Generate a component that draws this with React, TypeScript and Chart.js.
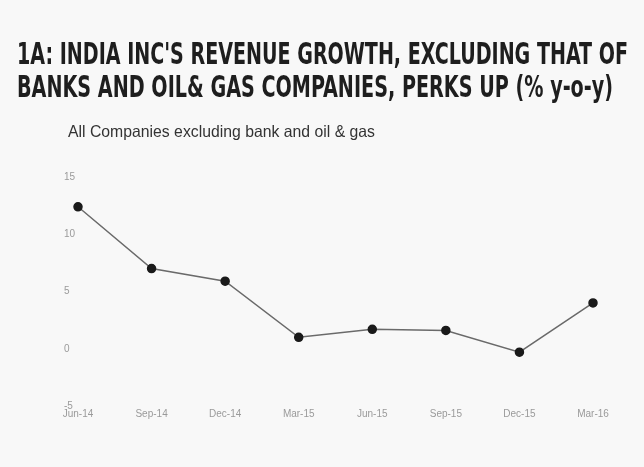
import React, { useEffect, useLayoutEffect, useRef } from "react";
import { Chart, registerables } from "chart.js";

Chart.register(...registerables);

const titleLines = [
  "1A: INDIA INC'S REVENUE GROWTH, EXCLUDING THAT OF",
  "BANKS AND OIL& GAS COMPANIES, PERKS UP (% y-o-y)",
];
const subtitle = "All Companies excluding bank and oil & gas";
const categories = ["Jun-14", "Sep-14", "Dec-14", "Mar-15", "Jun-15", "Sep-15", "Dec-15", "Mar-16"];
const growth = [12.4, 7.0, 5.9, 1.0, 1.7, 1.6, -0.3, 4.0];
const yMin = -5;
const yMax = 15;
const yStep = 5;

function FitLine({
  text,
  width,
  top,
  left,
  style,
}: {
  text: string;
  width: number;
  top: number;
  left: number;
  style: React.CSSProperties;
}) {
  const ref = useRef<HTMLSpanElement>(null);
  useLayoutEffect(() => {
    const el = ref.current;
    if (!el) return;
    el.style.transform = "none";
    const w = el.getBoundingClientRect().width;
    if (w > 0) el.style.transform = `scaleX(${width / w})`;
  }, [text, width]);
  return (
    <span
      ref={ref}
      style={{
        position: "absolute",
        left,
        top,
        whiteSpace: "nowrap",
        transformOrigin: "left top",
        ...style,
      }}
    >
      {text}
    </span>
  );
}

const titleStyle: React.CSSProperties = {
  fontFamily: "'Liberation Sans Narrow', 'DejaVu Sans Condensed', sans-serif",
  fontWeight: "bold",
  fontSize: 31,
  lineHeight: "33px",
  color: "#1e1e1e",
};

const subStyle: React.CSSProperties = {
  fontFamily: "'Liberation Sans', Arial, sans-serif",
  fontSize: 16.5,
  lineHeight: "20px",
  color: "#333",
};

export default function App() {
  const canvasRef = useRef<HTMLCanvasElement>(null);

  useEffect(() => {
    const canvas = canvasRef.current;
    if (!canvas) return;
    const chart = new Chart(canvas, {
      type: "line",
      data: {
        labels: categories,
        datasets: [
          {
            label: subtitle,
            data: growth,
            borderColor: "#6a6a6a",
            borderWidth: 1.5,
            pointBackgroundColor: "#1a1a1a",
            pointBorderColor: "#1a1a1a",
            pointRadius: 4,
            tension: 0,
          },
        ],
      },
      options: {
        animation: false,
        responsive: false,
        maintainAspectRatio: false,
        layout: { padding: { top: 177, right: 51, bottom: 40, left: 64 } },
        plugins: {
          legend: { display: false },
          tooltip: { enabled: false },
        },
        scales: {
          x: {
            offset: false,
            grid: { display: false, drawTicks: false },
            border: { display: false },
            ticks: {
              color: "#9a9a9a",
              font: { family: "Liberation Sans", size: 10 },
              padding: 2,
              maxRotation: 0,
              autoSkip: false,
            },
            afterFit: (s: any) => {
              s.height = 21;
            },
          },
          y: {
            min: yMin,
            max: yMax,
            grid: { display: false, drawTicks: false },
            border: { display: false },
            ticks: {
              stepSize: yStep,
              color: "#9a9a9a",
              font: { family: "Liberation Sans", size: 10 },
              padding: 0,
              crossAlign: "far",
            },
            afterFit: (s: any) => {
              s.width = 14;
            },
          },
        },
      },
    });
    return () => chart.destroy();
  }, []);

  return (
    <div
      style={{
        position: "fixed",
        left: 0,
        top: 0,
        width: 644,
        height: 467,
        background: "#f8f8f8",
        overflow: "hidden",
      }}
    >
      <canvas ref={canvasRef} width={644} height={467} style={{ position: "absolute", left: 0, top: 0 }} />
      <FitLine text={titleLines[0]} width={611} top={37} left={17} style={titleStyle} />
      <FitLine text={titleLines[1]} width={596} top={70} left={17} style={titleStyle} />
      <FitLine text={subtitle} width={307} top={121} left={68} style={subStyle} />
    </div>
  );
}
